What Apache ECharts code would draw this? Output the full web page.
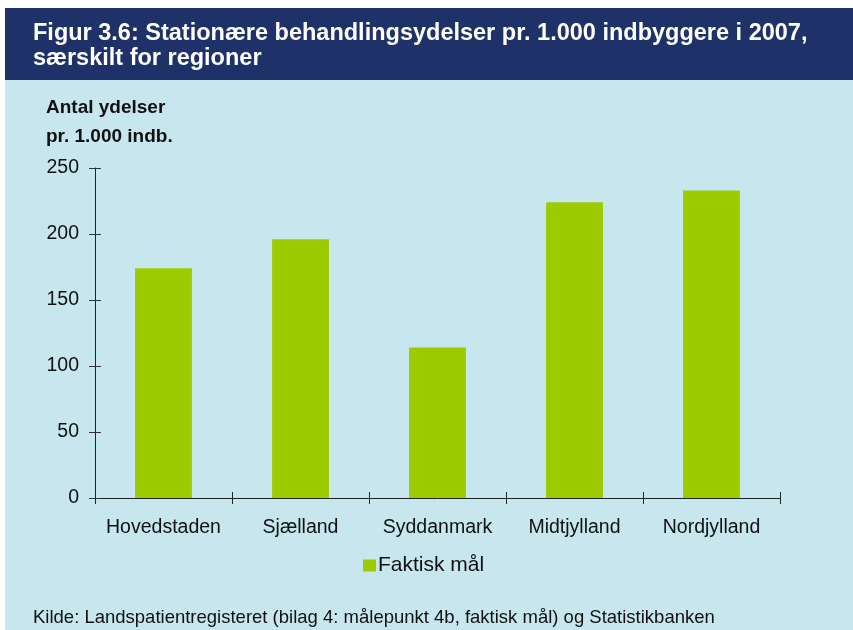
<!DOCTYPE html>
<html><head><meta charset="utf-8">
<script src="https://cdn.jsdelivr.net/npm/echarts@6/dist/echarts.min.js"></script>
<style>html,body{margin:0;padding:0;background:#fff}#c{width:853px;height:630px}</style>
</head><body><div id="c"></div>
<script>
var categories = ['Hovedstaden', 'Sjælland', 'Syddanmark', 'Midtjylland', 'Nordjylland'];
var faktiskMaal = [174, 196, 114, 224, 233];
var seriesName = 'Faktisk mål';
var yTicks = [0, 50, 100, 150, 200, 250];
var titleText = 'Figur 3.6: Stationære behandlingsydelser pr. 1.000 indbyggere i 2007,\nsærskilt for regioner';
var yName = 'Antal ydelser\npr. 1.000 indb.';
var sourceText = 'Kilde: Landspatientregisteret (bilag 4: målepunkt 4b, faktisk mål) og Statistikbanken';

var chart = echarts.init(document.getElementById('c'), null, {renderer: 'canvas'});
var font = '"Liberation Sans", Arial, sans-serif';
var yMin = yTicks[0], yMax = yTicks[yTicks.length - 1], yStep = yTicks[1] - yTicks[0];
var grid = {left: 95, right: 73, top: 168, bottom: 132};
chart.setOption({
  backgroundColor: '#ffffff',
  animation: false,
  graphic: [
    {type: 'rect', z: -10, shape: {x: 5, y: 8, width: 848, height: 622}, style: {fill: '#c8e6ee'}},
    {type: 'rect', z: -9, shape: {x: 5, y: 8, width: 848, height: 72}, style: {fill: '#1f3169'}}
  ],
  title: [
    {text: titleText, left: 28, top: 16, textStyle: {color: '#ffffff', fontFamily: font, fontWeight: 'bold', fontSize: 23.5, lineHeight: 25}},
    {text: sourceText, left: 28, top: 603, textStyle: {color: '#111111', fontFamily: font, fontWeight: 'normal', fontSize: 18.5}}
  ],
  legend: {
    data: [seriesName], left: 358, top: 550, itemWidth: 13, itemHeight: 12, itemGap: 6,
    icon: 'rect',
    textStyle: {fontFamily: font, fontSize: 21, color: '#111111', padding: [0, 0, 0, -3]}
  },
  grid: grid,
  xAxis: [{
    type: 'category', data: categories,
    axisLine: {lineStyle: {color: '#222222', width: 1}},
    axisTick: {show: true, length: 6, lineStyle: {color: '#222222'}},
    axisLabel: {fontFamily: font, fontSize: 19.5, color: '#111111', margin: 20, interval: 0}
  }, {
    type: 'category', data: categories, position: 'bottom',
    axisLine: {show: false},
    axisTick: {show: true, inside: true, length: 6, lineStyle: {color: '#222222'}},
    axisLabel: {show: false}
  }],
  yAxis: [{
    type: 'value', min: yMin, max: yMax, interval: yStep,
    name: yName, nameLocation: 'end', nameGap: 0,
    nameTextStyle: {fontFamily: font, fontWeight: 'bold', fontSize: 19, color: '#111111', align: 'left', verticalAlign: 'bottom', lineHeight: 29, padding: [0, 0, 7, -49]},
    axisLine: {show: true, lineStyle: {color: '#222222', width: 1}},
    axisTick: {show: true, length: 6, lineStyle: {color: '#333333'}},
    axisLabel: {fontFamily: font, fontSize: 19.5, color: '#111111', margin: 16},
    splitLine: {show: false}
  }, {
    type: 'value', min: yMin, max: yMax, interval: yStep, position: 'left',
    axisLine: {show: false},
    axisTick: {show: true, inside: true, length: 6, lineStyle: {color: '#333333'}},
    axisLabel: {show: false},
    splitLine: {show: false}
  }],
  series: [{
    name: seriesName, type: 'bar', data: faktiskMaal, barWidth: '41.5%',
    itemStyle: {color: '#9ccc00'}
  }]
});
</script></body></html>
